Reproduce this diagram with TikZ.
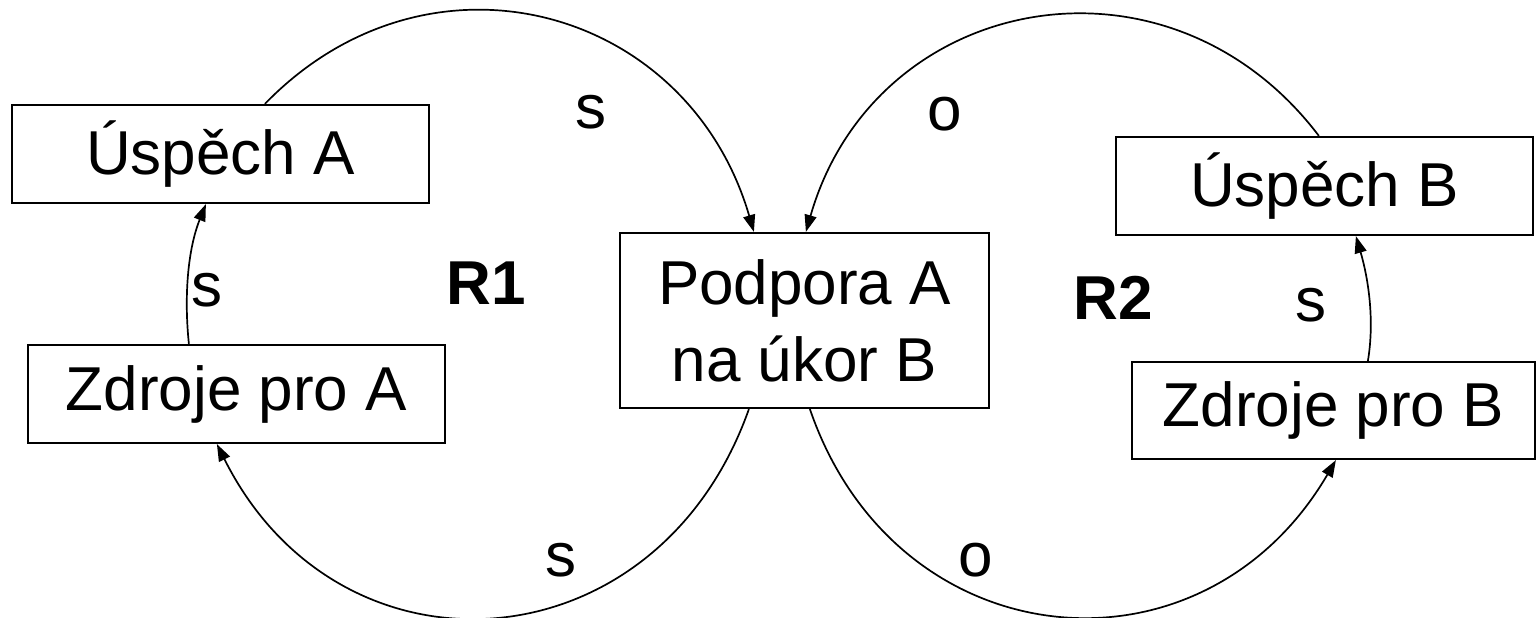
\documentclass[tikz,border=0pt]{standalone}
\usepackage{fontspec}
\setmainfont{Liberation Sans}
\usetikzlibrary{calc,arrows.meta}
\begin{document}
\begin{tikzpicture}[x=1pt,y=-1pt,
  box/.style={draw,line width=2.2pt,inner sep=0pt,font=\fontsize{62}{77}\selectfont,align=center},
  lbl/.style={inner sep=0pt,font=\fontsize{62}{74}\selectfont},
  rlbl/.style={inner sep=0pt,font=\fontsize{62}{74}\selectfont\bfseries},
  link/.style={line width=1.7pt,-{Triangle[length=17pt,width=12pt]}}]
\useasboundingbox (0,0) rectangle (1537,618);
\node[box,minimum width=417pt,minimum height=98pt] (ua) at (220.5,154) {Úspěch A};
\node[box,minimum width=417pt,minimum height=98pt] (za) at (236.5,394) {Zdroje pro A};
\node[box,minimum width=369pt,minimum height=175pt] (pod) at (804.5,320.5) {Podpora A\\na úkor B};
\node[box,minimum width=417pt,minimum height=98pt] (ub) at (1324.5,186) {Úspěch B};
\node[box,minimum width=403pt,minimum height=97pt] (zb) at (1333.5,410.5) {Zdroje pro B};
\draw[link] ($(ua.north west)+(254,0)$) .. controls +(164,-169) and +(-66,-226) .. ($(pod.north west)+(135,0)$);
\draw[link] ($(za.north west)+(162,0)$) .. controls +(-5,-48) and +(-18,45) .. ($(ua.south west)+(195,0)$);
\draw[link] ($(pod.south west)+(130,0)$) .. controls +(-92,260) and +(123,246) .. ($(za.south west)+(190,0)$);
\draw[link] ($(ub.north west)+(204,0)$) .. controls +(-151,-199) and +(69,-240) .. ($(pod.north west)+(187,0)$);
\draw[link] ($(zb.north west)+(237,0)$) .. controls +(7,-42) and +(12,41) .. ($(ub.south west)+(241,0)$);
\draw[link] ($(pod.south west)+(191,0)$) .. controls +(86,251) and +(-134,229) .. ($(zb.south west)+(205,0)$);
\node[lbl] (s1) at (591,112) {s};
\node[lbl] (o1) at (945,114) {o};
\node[lbl] (s2) at (207,290) {s};
\node[rlbl] (r1) at (486,283) {R1};
\node[rlbl] (r2) at (1113,298) {R2};
\node[lbl] (s3) at (1311,305) {s};
\node[lbl] (s4) at (561,560) {s};
\node[lbl] (o2) at (976,560) {o};
\end{tikzpicture}
\end{document}
